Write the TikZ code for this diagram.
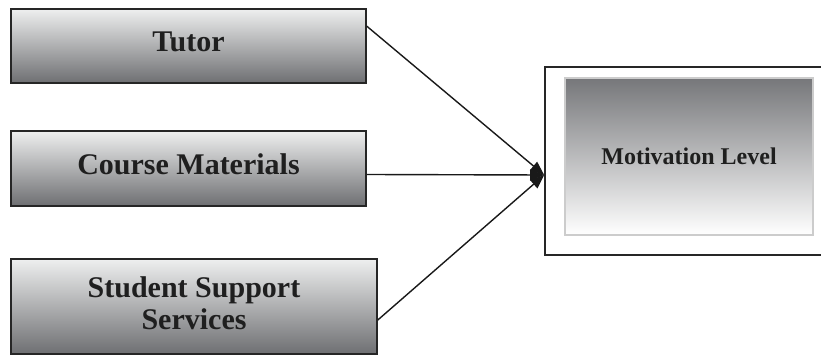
\documentclass[tikz,border=0pt]{standalone}
\usepackage{fontspec}
\setmainfont{Liberation Serif}
\usetikzlibrary{arrows.meta}
\definecolor{boxtop}{HTML}{EEEFEF}
\definecolor{boxbot}{HTML}{6E6F72}
\definecolor{intop}{HTML}{76777A}
\tikzset{
  srcbox/.style={draw=black!85, line width=1.6pt, top color=boxtop, bottom color=boxbot,
     shading angle=0, font=\fontsize{30}{33}\selectfont\bfseries, text=black!88, align=center,
     inner sep=0pt},
  outerbox/.style={draw=black!85, line width=1.6pt, fill=white, inner sep=0pt},
  innerbox/.style={draw=black!20, line width=1.2pt, top color=intop, bottom color=white,
     font=\fontsize{24}{28}\selectfont\bfseries, text=black!88, inner sep=0pt},
  conn/.style={line width=1.4pt, black!90, -{Triangle[length=14pt,width=11pt]}}
}
\begin{document}
\begin{tikzpicture}[x=1pt,y=1pt]
\useasboundingbox (0,0) rectangle (821,356);
\node[srcbox, minimum width=355pt, minimum height=74pt] (tutor) at (188.5,310) {\raisebox{8pt}{Tutor}};
\node[srcbox, minimum width=355pt, minimum height=75pt] (course) at (188.5,187.5) {\raisebox{8pt}{Course Materials}};
\node[srcbox, minimum width=366pt, minimum height=95pt] (sss) at (194,49.5) {\raisebox{6pt}{\begin{tabular}{@{}c@{}}Student Support\\[-1pt]Services\end{tabular}}};
\node[outerbox, minimum width=277pt, minimum height=188pt] (outer) at (683.5,195) {};
\node[innerbox, minimum width=248pt, minimum height=157pt] (inner) at (689,199.5) {Motivation Level};
\coordinate (tip) at ([yshift=-14pt]outer.west);
\draw[conn] ([yshift=-18pt]tutor.north east) -- (tip);
\draw[conn] ([yshift=-6pt]course.east) -- (tip);
\draw[conn] ([yshift=-13.5pt]sss.east) -- (tip);
\end{tikzpicture}
\end{document}
